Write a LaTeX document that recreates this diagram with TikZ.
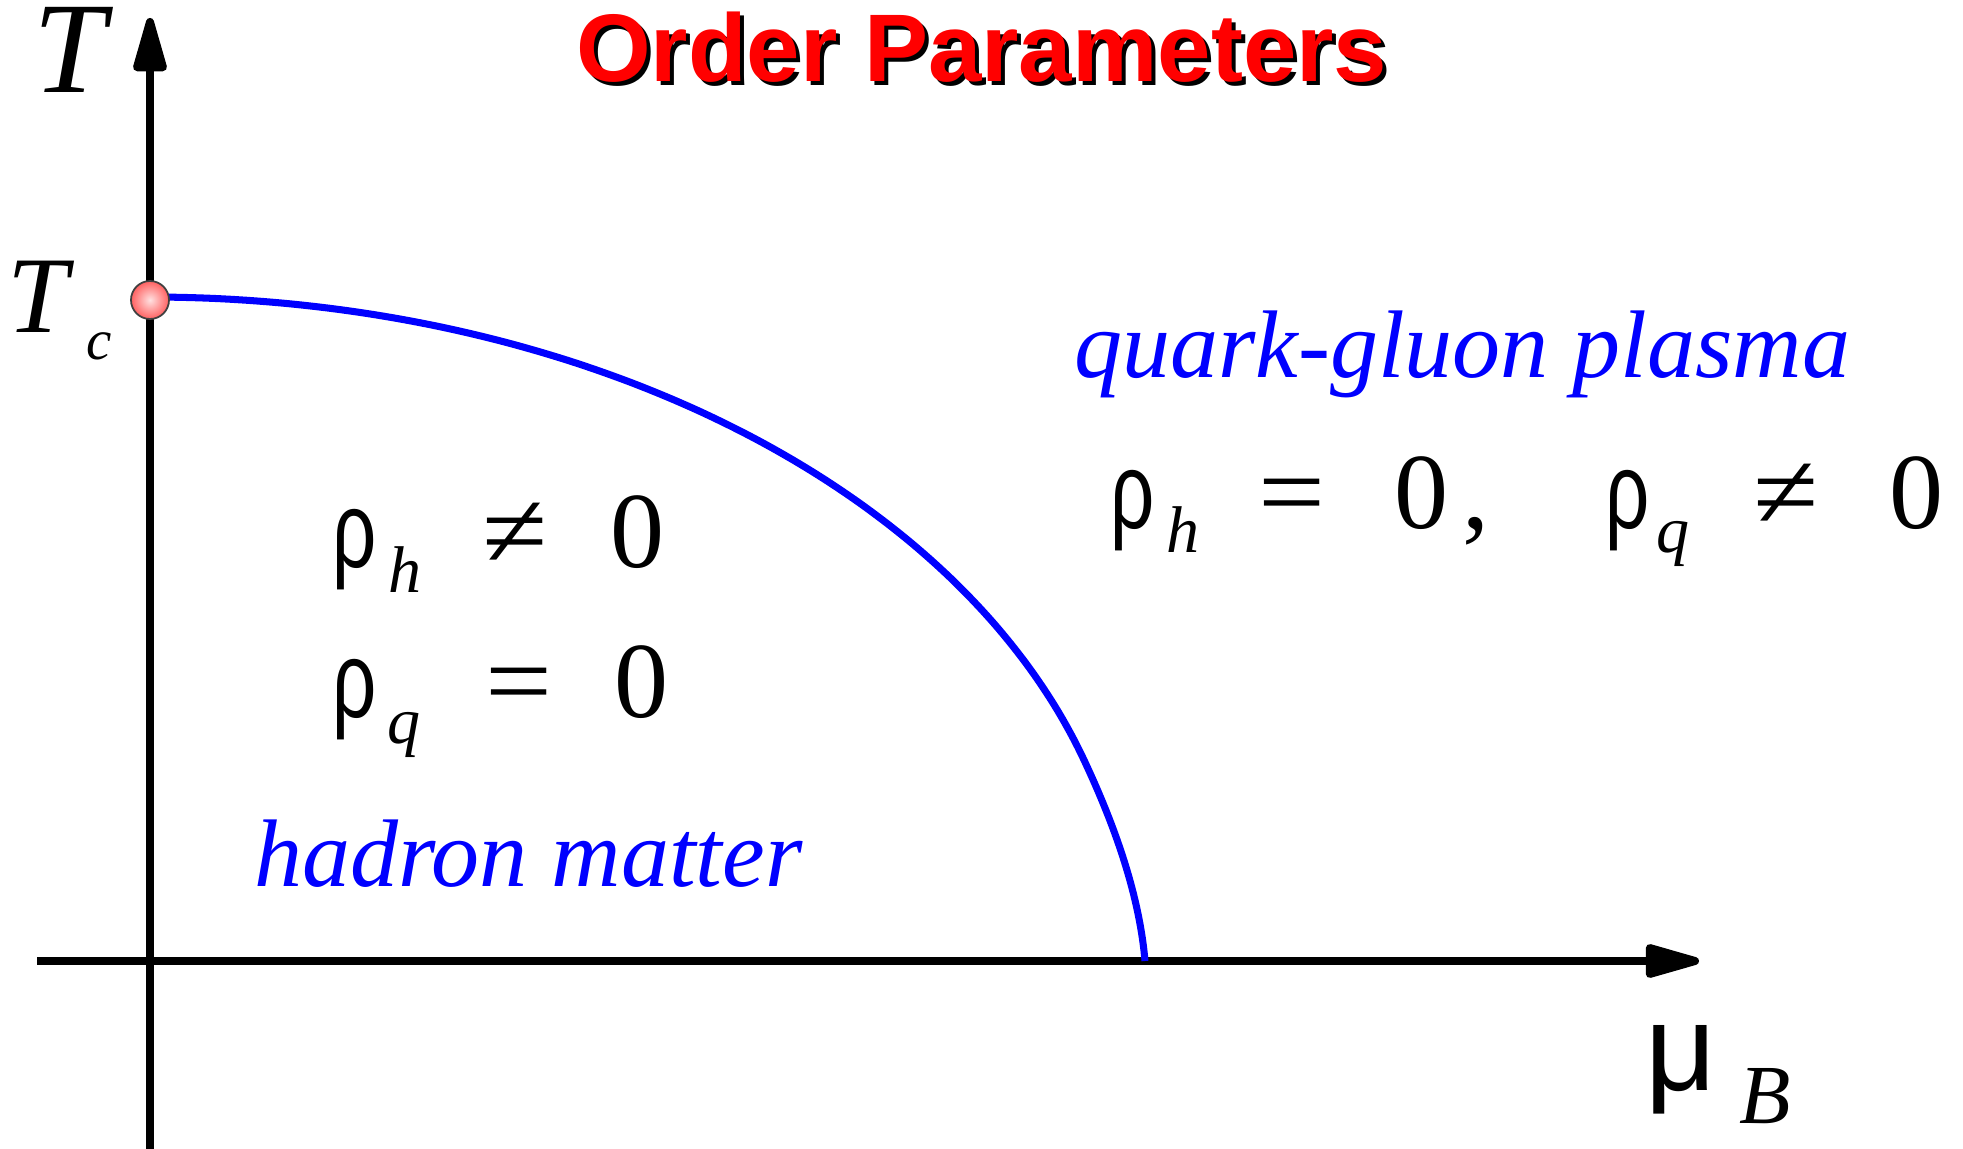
\documentclass[tikz,border=0pt]{standalone}
\usepackage{fontspec}
\usepackage{graphicx}
\setmainfont{Liberation Serif}
\newfontfamily\arialfont{Liberation Sans}
\usetikzlibrary{arrows.meta}
\newcommand\rhog{\scalebox{0.72}[1]{\arialfont ρ}}
\newcommand\eqg{\scalebox{1.1}[1]{=}}
\newcommand\neqg{\scalebox{1.1}[1]{≠}}
\begin{document}
\begin{tikzpicture}[x=0.01cm,y=-0.01cm,
  lbl/.style={anchor=base west, inner sep=0pt, outer sep=0pt},
  ttl/.style={lbl, font=\arialfont\bfseries\fontsize{27.31pt}{30pt}\selectfont},
  phase/.style={lbl, text=blue, font=\itshape\fontsize{27.31pt}{30pt}\selectfont},
  big/.style={lbl, font=\fontsize{30.73pt}{33pt}\selectfont},
  sub/.style={lbl, font=\itshape\fontsize{18.78pt}{20pt}\selectfont},
  axis/.style={line width=2.28pt, -{Triangle[length=18.5pt, width=9.7pt, round]}},
  trans/.style={blue, line width=2pt, line join=round},
]
\useasboundingbox (0,0) rectangle (1963,1149);
\fill[white] (0,0) rectangle (1963,1149);

% axes
\coordinate (ybot) at (150,1149);
\coordinate (ytop) at (150,18);
\coordinate (xl) at (37,961);
\coordinate (xr) at (1699,961);
\coordinate (muend) at (1145,961);
\draw[axis] (ybot) -- (ytop);
\draw[axis] (xl) -- (xr);

% transition line
\node[circle, minimum size=0.38cm, inner sep=0pt] (tcdot) at (150,300) {};
\draw[trans] plot[domain=90:18, samples=90, smooth] ({150+980*cos(\x)}, {961-664*sin(\x)})
  .. controls (1112,819) and (1139,891) .. (muend);
\shade[inner color=red!12, outer color=red!62, draw=black!75, line width=0.5pt] (tcdot.center) circle[radius=0.19cm];

% title with shadow
\node[ttl, text=black] (titleshadow) at (580,86) {Order Parameters};
\node[ttl, text=red] (title) at (576,82) {Order Parameters};

% axis labels
\node[lbl, text height=25pt, font=\itshape\fontsize{36.99pt}{40pt}\selectfont] (Tlab) at (34,93) {T};
\node[lbl, font=\itshape\fontsize{31.01pt}{34pt}\selectfont] (Tclab) at (8,333) {T};
\node[lbl, font=\itshape\fontsize{16.22pt}{18pt}\selectfont] (clab) at (86,360) {c};
\node[lbl, font=\arialfont\fontsize{35pt}{38pt}\selectfont] (mulab) at (1645,1090) {μ};
\node[lbl, font=\itshape\fontsize{23.9pt}{26pt}\selectfont] (Blab) at (1739,1123) {B};

% phase names
\node[phase] (qgp) at (1074,378) {quark-gluon plasma};
\node[phase] (hm) at (254,886) {hadron matter};

% right formula
\node[big] (r1) at (1110,528) {\rhog};
\node[sub] (r1s) at (1166,553) {h};
\node[big] (r1eq) at (1258,528) {\eqg};
\node[big] (r1z) at (1394,528) {0};
\node[big] (r1c) at (1462,528) {,};
\node[big] (r2) at (1605,528) {\rhog};
\node[sub] (r2s) at (1656,553) {q};
\node[big] (r2ne) at (1753,528) {\neqg};
\node[big] (r2z) at (1889,528) {0};

% left formulas
\node[big] (l1) at (332,568) {\rhog};
\node[sub] (l1s) at (388,593) {h};
\node[big] (l1ne) at (482,568) {\neqg};
\node[big] (l1z) at (610,568) {0};
\node[big] (l2) at (332,718) {\rhog};
\node[sub] (l2s) at (387,743) {q};
\node[big] (l2eq) at (485,718) {\eqg};
\node[big] (l2z) at (614,718) {0};
\end{tikzpicture}
\end{document}
